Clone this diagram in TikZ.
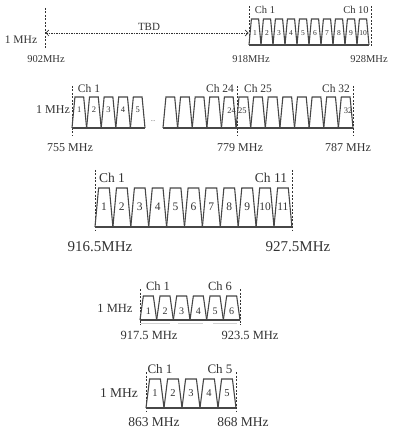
\documentclass[tikz,border=0pt]{standalone}
\usepackage{fontspec}
\setmainfont{Liberation Serif}
\usetikzlibrary{arrows.meta}
\definecolor{ink}{HTML}{333333}
\definecolor{lin}{HTML}{474747}
\newcommand\chanrow[5]{%
  \foreach \i in {1,...,#3}{
    \draw[trap] ({#1+(\i-1)*#2},#5) -- ({#1+(\i-1)*#2+0.2*#2},#4) -- ({#1+\i*#2-0.2*#2},#4) -- ({#1+\i*#2},#5);
  }
  \draw[base] (#1,#5) -- ({#1+#3*#2},#5);
}
\tikzset{
  trap/.style={draw=lin, line width=1.1pt, line join=miter},
  base/.style={draw=lin, line width=1.4pt},
  vdash/.style={draw=ink, line width=0.7pt, dash pattern=on 2pt off 1.5pt},
  lbl/.style={text=ink, inner sep=0pt, font=\fontsize{#1}{#1}\selectfont},
  lbl/.default=11,
  num/.style={text=ink, inner sep=0pt, font=\fontsize{#1}{#1}\selectfont},
  num/.default=8,
  tbd/.style={draw=ink, line width=0.5pt, dash pattern=on 1.5pt off 1pt, {Straight Barb[length=3pt,width=6pt,line width=0.6pt]}-{Straight Barb[length=3pt,width=6pt,line width=0.6pt]}},
  faint/.style={draw=black!18, line width=0.8pt}
}
\begin{document}
\begin{tikzpicture}[x=1pt,y=-1pt]
\useasboundingbox (0,0) rectangle (392,430);
% ---------------- Panel 1 ----------------
\draw[vdash] (45,8) -- (45,48);
\draw[vdash] (249,6) -- (249,48);
\draw[vdash] (371,6) -- (371,48);
\chanrow{249}{12}{10}{19}{45}
\coordinate (a1) at (45.5,33);
\coordinate (a2) at (248.5,33);
\draw[tbd] (a1) -- (a2);
\node[lbl=11] (tbdl) at (149,27) {TBD};
\node[lbl=11.5] (p1mhz) at (21,40) {1 MHz};
\foreach \i in {1,...,10}{
  \node[num=7.5] (p1n\i) at ({249+(\i-0.5)*12},33) {\i};
}
\node[lbl=10.5] (p1c1) at (265,10) {Ch 1};
\node[lbl=10.5] (p1c10) at (356,10) {Ch 10};
\node[lbl=10.5] (p1f1) at (46,59) {902MHz};
\node[lbl=10.5] (p1f2) at (251,59) {918MHz};
\node[lbl=10.5] (p1f3) at (369,59) {928MHz};
% ---------------- Panel 2 ----------------
\draw[vdash] (72,86) -- (72,136);
\draw[vdash] (237,86) -- (237,136);
\draw[vdash] (353,86) -- (353,136);
\chanrow{72}{14.6}{5}{97}{128}
\chanrow{163}{14.615}{13}{97}{128}
\node[num=6] (p2dots) at (153,121) {...};
\foreach \i in {1,...,5}{
  \node[num=8.5] (p2n\i) at ({72+(\i-0.5)*14.6},110) {\i};
}
\node[num=8.5, anchor=east] (p2n24) at (236,111) {24};
\node[num=8.5, anchor=west] (p2n25) at (238,111) {25};
\node[num=8.5, anchor=east] (p2n32) at (352.5,111) {32};
\node[lbl=11.5] (p2c1) at (89,89) {Ch 1};
\node[lbl=11.5] (p2c24) at (220,89) {Ch 24};
\node[lbl=11.5] (p2c25) at (258,89) {Ch 25};
\node[lbl=11.5] (p2c32) at (336,89) {Ch 32};
\node[lbl=12] (p2mhz) at (53,110) {1 MHz};
\node[lbl=12] (p2f1) at (70,148) {755 MHz};
\node[lbl=12] (p2f2) at (240,148) {779 MHz};
\node[lbl=12] (p2f3) at (348,148) {787 MHz};
% ---------------- Panel 3 ----------------
\draw[vdash] (95,170) -- (95,231);
\draw[vdash] (292,170) -- (292,231);
\chanrow{95}{17.9}{11}{188}{227}
\foreach \i in {1,...,11}{
  \node[num=11.5] (p3n\i) at ({95+(\i-0.5)*17.9},207) {\i};
}
\node[lbl=13.5] (p3c1) at (112,178) {Ch 1};
\node[lbl=13.5] (p3c11) at (271,178) {Ch 11};
\node[lbl=15] (p3f1) at (100,247) {916.5MHz};
\node[lbl=15] (p3f2) at (298,247) {927.5MHz};
% ---------------- Panel 4 ----------------
\draw[vdash] (140,289) -- (140,325);
\draw[vdash] (240,289) -- (240,325);
\chanrow{140}{16.667}{6}{296}{320}
\draw[faint] (141,323.5) -- (170,323.5);
\draw[faint] (178,323.5) -- (203,323.5);
\draw[faint] (213,323.5) -- (237,323.5);
\foreach \i in {1,...,6}{
  \node[num=10] (p4n\i) at ({140+(\i-0.5)*16.667},311) {\i};
}
\node[lbl=12.5] (p4c1) at (158,286) {Ch 1};
\node[lbl=12.5] (p4c6) at (220,286) {Ch 6};
\node[lbl=12.5] (p4mhz) at (115,308) {1 MHz};
\node[lbl=12.5] (p4f1) at (149,335) {917.5 MHz};
\node[lbl=12.5] (p4f2) at (250,335) {923.5 MHz};
% ---------------- Panel 5 ----------------
\draw[vdash] (146,372) -- (146,412);
\draw[vdash] (236,372) -- (236,412);
\chanrow{146}{18}{5}{379}{408}
\foreach \i in {1,...,5}{
  \node[num=10.5] (p5n\i) at ({146+(\i-0.5)*18},393) {\i};
}
\node[lbl=13] (p5c1) at (160,369) {Ch 1};
\node[lbl=13] (p5c5) at (220,369) {Ch 5};
\node[lbl=13.5] (p5mhz) at (119,393) {1 MHz};
\node[lbl=13.5] (p5f1) at (154,422) {863 MHz};
\node[lbl=13.5] (p5f2) at (243,422) {868 MHz};
\end{tikzpicture}
\end{document}
